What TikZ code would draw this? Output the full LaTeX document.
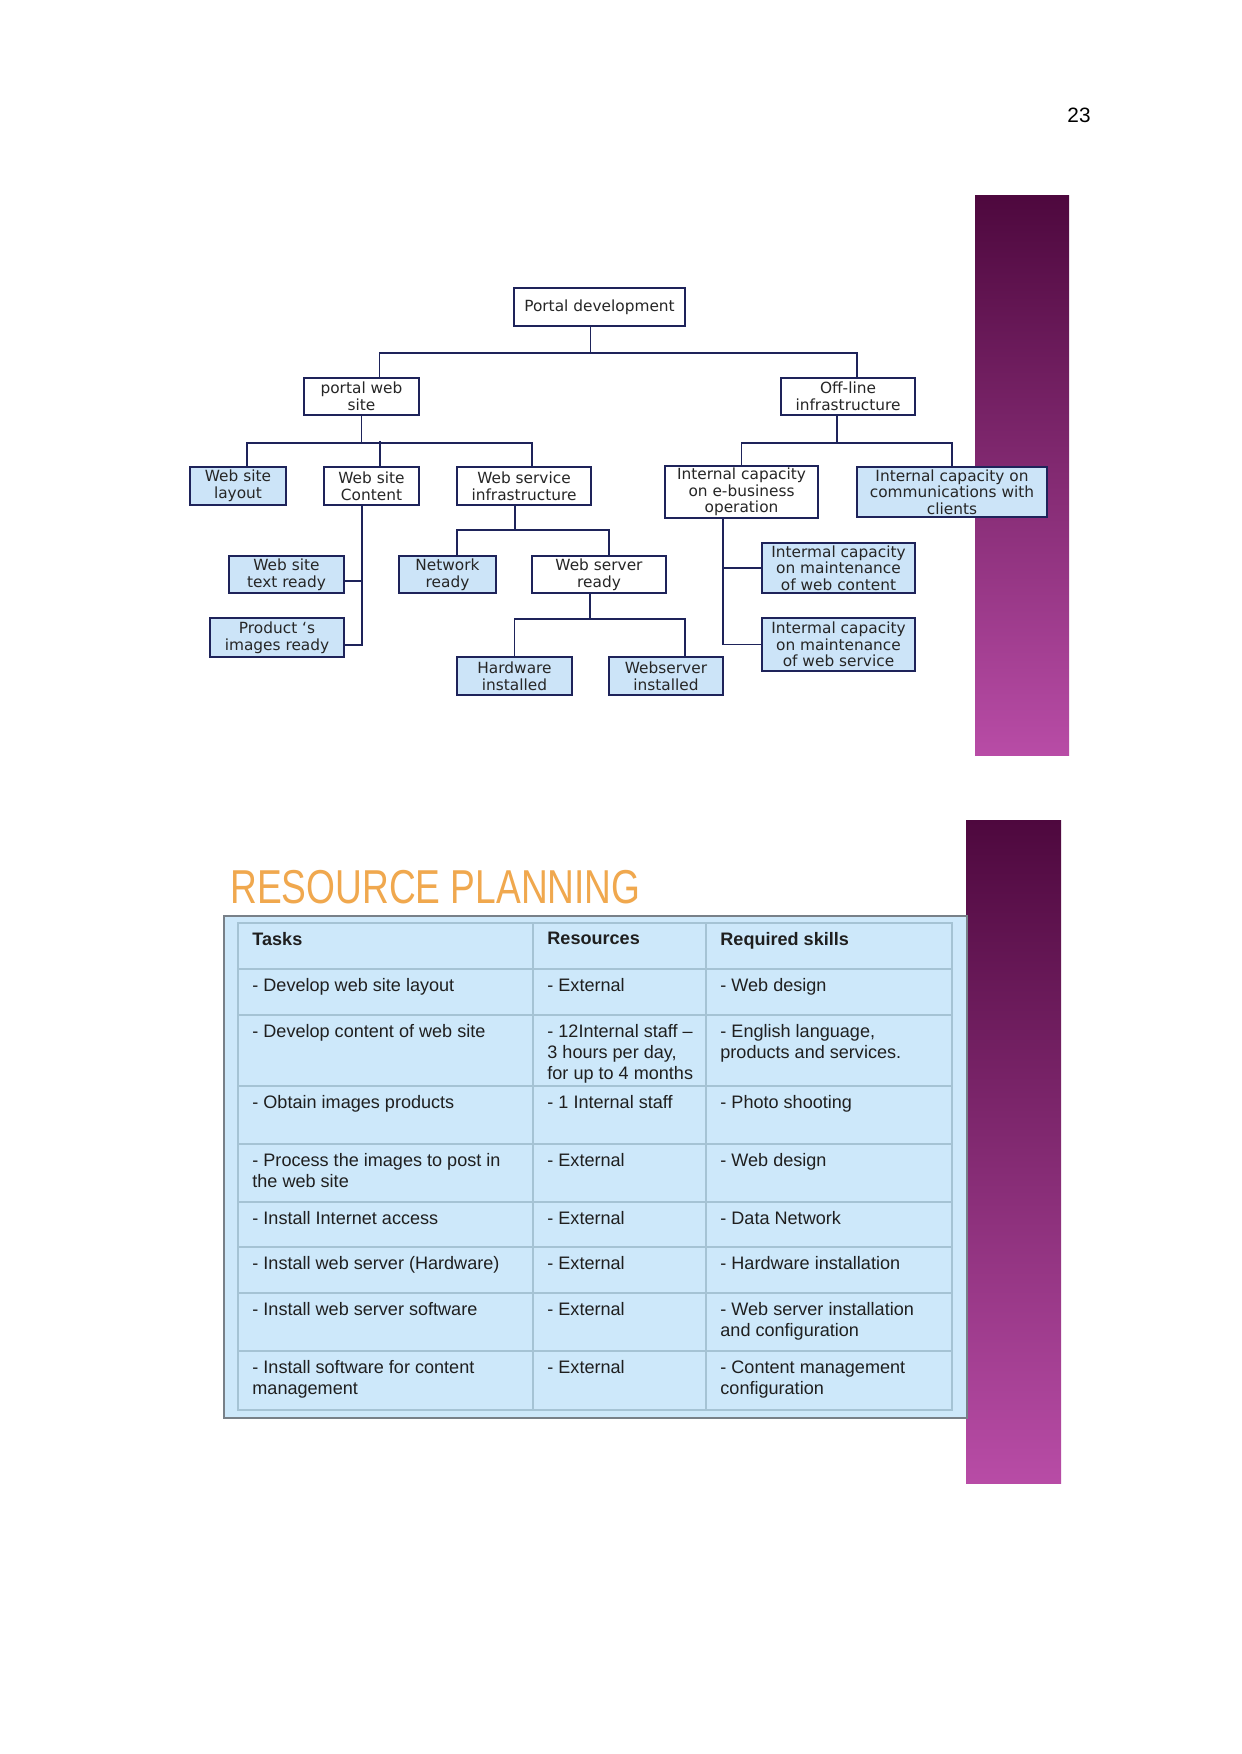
\documentclass[tikz,border=0pt]{standalone}
\usepackage{fontspec}
\setmainfont{Liberation Sans}
\newfontfamily\treefont{DejaVu Sans}
\newfontfamily\titlefont[FakeStretch=0.78]{Liberation Sans}
\usetikzlibrary{calc}

\definecolor{wbsnavy}{RGB}{30,35,90}
\definecolor{wbsblue}{RGB}{204,228,248}
\definecolor{tabblue}{RGB}{205,232,250}
\definecolor{tabline}{RGB}{165,195,212}
\definecolor{tabframe}{RGB}{120,128,136}
\definecolor{plumtop}{RGB}{78,8,62}
\definecolor{plumbot}{RGB}{184,76,166}
\definecolor{titleorange}{RGB}{240,168,78}

\tikzset{
  wbs/.style={draw=wbsnavy, line width=0.9pt, fill=white, align=center, inner sep=1pt,
    text=black!85, font=\treefont\fontsize{7.4pt}{8pt}\selectfont},
  wbsleaf/.style={wbs, fill=wbsblue},
  link/.style={draw=wbsnavy, line width=0.9pt},
  cell/.style={anchor=north west, inner sep=0pt, align=left, text=black!88,
    font=\fontsize{8.7pt}{10.1pt}\selectfont},
  tabgrid/.style={draw=tabline, line width=0.5pt}
}

\begin{document}
\begin{tikzpicture}[x=0.16922mm, y=-0.16922mm]
\useasboundingbox (0,0) rectangle (1241,1754);
\fill[white] (0,0) rectangle (1241,1754);

% page number
\node[font=\fontsize{10pt}{12pt}\selectfont] (pnum) at (1079,115.5) {23};

% side bars
\shade[top color=plumtop, bottom color=plumbot] (975,196) rectangle (1069,755);
\shade[top color=plumtop, bottom color=plumbot] (966,820) rectangle (1061,1483);

% work breakdown
\node[wbs, minimum width=82.3pt, minimum height=18.3pt] (top) at (599.5,307) {Portal development};
\node[wbs, minimum width=55.4pt, minimum height=17.8pt] (pws) at (361.5,396.5) {portal web\\site};
\node[wbs, minimum width=64.5pt, minimum height=17.8pt] (off) at (848,396.5) {Off-line\\infrastructure};
\node[wbsleaf, minimum width=46.2pt, minimum height=18.3pt] (layout) at (238,486) {Web site\\layout};
\node[wbs, minimum width=45.7pt, minimum height=18.3pt] (content) at (371.5,486) {Web site\\Content};
\node[wbs, minimum width=64.5pt, minimum height=18.3pt] (wsi) at (524,486) {Web service\\infrastructure};
\node[wbs, minimum width=73.7pt, minimum height=24.1pt] (ebiz) at (741.5,492) {Internal capacity\\on e-business\\operation};
\node[wbsleaf, minimum width=91.5pt, minimum height=24.1pt] (comm) at (952,492) {Internal capacity on\\communications with\\clients};
\node[wbsleaf, minimum width=55.4pt, minimum height=17.8pt] (txt) at (286.5,574.5) {Web site\\text ready};
\node[wbsleaf, minimum width=64.5pt, minimum height=18.8pt] (img) at (277,637.5) {Product ‘s\\images ready};
\node[wbsleaf, minimum width=46.7pt, minimum height=17.8pt] (net) at (447.5,574.5) {Network\\ready};
\node[wbs, minimum width=64.5pt, minimum height=17.8pt] (wsr) at (599,574.5) {Web server\\ready};
\node[wbsleaf, minimum width=55.4pt, minimum height=18.3pt] (hw) at (514.5,676) {Hardware\\installed};
\node[wbsleaf, minimum width=54.9pt, minimum height=18.3pt] (wsv) at (666,676) {Webserver\\installed};
\node[wbsleaf, minimum width=73.7pt, minimum height=24.1pt] (mcont) at (838.5,568) {Intermal capacity\\on maintenance\\of web content};
\node[wbsleaf, minimum width=73.7pt, minimum height=25.5pt] (mserv) at (838.5,644.5) {Intermal capacity\\on maintenance\\of web service};

% level 1
\draw[link] ($(top.south)+(-9,0)$) -- ++(0,26) coordinate (b0);
\draw[link] ($(pws.north)+(18,0)$) |- (b0) -| ($(off.north)+(9,0)$);
% portal web site
\draw[link] (pws.south) -- ++(0,27) coordinate (b1);
\draw[link] ($(layout.north)+(9,0)$) |- (b1) -| ($(wsi.north)+(8,0)$);
\draw[link] ($(content.north)+(8.5,0)$) -- ++(0,-25);
\draw[link] ($(content.south)+(-9.5,0)$) |- ($(img.east)+(0,7.5)$);
\draw[link] ($(txt.east)+(0,6.5)$) -- ++(18,0);
% web service infrastructure
\draw[link] ($(wsi.south)+(-9,0)$) -- ++(0,24) coordinate (b3);
\draw[link] ($(net.north)+(9.5,0)$) |- (b3) -| ($(wsr.north)+(10,0)$);
\draw[link] ($(wsr.south)+(-9,0)$) -- ++(0,25) coordinate (b4);
\draw[link] (hw.north) |- (b4) -| ($(wsv.north)+(19,0)$);
% off-line infrastructure
\draw[link] ($(off.south)+(-11,0)$) -- ++(0,27) coordinate (b2);
\draw[link] (ebiz.north) |- (b2) -| (comm.north);
\draw[link] ($(ebiz.south)+(-18.5,0)$) |- (mserv.west);
\draw[link] (mcont.west) -- ++(-39,0);

% resource planning
\node[anchor=base west, inner sep=0pt, text=titleorange,
  font=\titlefont\fontsize{22.9pt}{24pt}\selectfont] (title) at (230,903) {RESOURCE PLANNING};

\draw[tabframe, line width=1pt, fill=tabblue] (224,916) rectangle (967,1418);
\draw[tabgrid] (238,923) rectangle (952,1410);
\foreach \r in {969,1015,1086,1144,1202,1247,1293,1351}
  \draw[tabgrid] (238,\r) -- (952,\r);
\foreach \c in {533,706}
  \draw[tabgrid] (\c,923) -- (\c,1410);

\foreach \y/\ta/\re/\sk [count=\i] in {
  923/{\bfseries Tasks}/{\bfseries Resources}/{\bfseries Required skills},
  969/{- Develop web site layout}/{- External}/{- Web design},
  1015/{- Develop content of web site}/{- 12Internal staff –\\3 hours per day,\\for up to 4 months}/{- English language,\\products and services.},
  1086/{- Obtain images products}/{- 1 Internal staff}/{- Photo shooting},
  1144/{- Process the images to post in\\the web site}/{- External}/{- Web design},
  1202/{- Install Internet access}/{- External}/{- Data Network},
  1247/{- Install web server (Hardware)}/{- External}/{- Hardware installation},
  1293/{- Install web server software}/{- External}/{- Web server installation\\and configuration},
  1351/{- Install software for content\\management}/{- External}/{- Content management\\configuration}}
{
  \node[cell] (task\i) at (252,\y+9) {\ta};
  \node[cell] (res\i) at (547,\y+9) {\re};
  \node[cell] (skill\i) at (720,\y+9) {\sk};
}
\end{tikzpicture}
\end{document}
